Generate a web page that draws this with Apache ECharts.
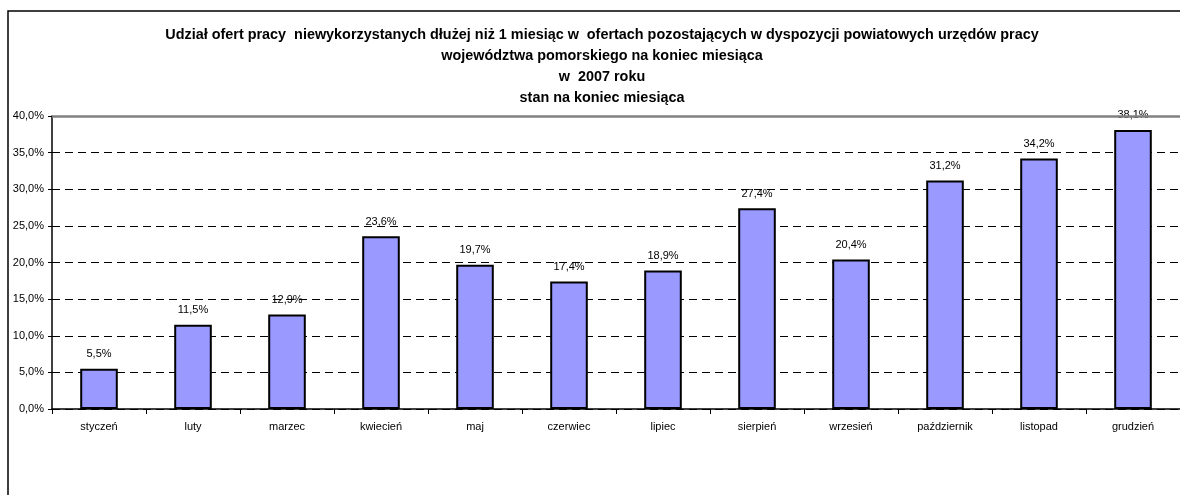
<!DOCTYPE html>
<html>
<head>
<meta charset="utf-8">
<script src="https://cdn.jsdelivr.net/npm/echarts@6/dist/echarts.min.js"></script>
<style>
  html, body { margin: 0; padding: 0; background: #fff; }
  #chart { width: 1180px; height: 495px; }
</style>
</head>
<body>
<div id="chart"></div>
<script>
  const months = ['styczeń', 'luty', 'marzec', 'kwiecień', 'maj', 'czerwiec', 'lipiec',
    'sierpień', 'wrzesień', 'październik', 'listopad', 'grudzień'];
  const shares = [5.5, 11.5, 12.9, 23.6, 19.7, 17.4, 18.9, 27.4, 20.4, 31.2, 34.2, 38.1];
  const titleLines = [
    'Udział ofert pracy  niewykorzystanych dłużej niż 1 miesiąc w  ofertach pozostających w dyspozycji powiatowych urzędów pracy',
    'województwa pomorskiego na koniec miesiąca',
    'w  2007 roku',
    'stan na koniec miesiąca'
  ];

  const pct = v => v.toFixed(1).replace('.', ',') + '%';
  const font = 'Liberation Sans, Arial, sans-serif';

  const chart = echarts.init(document.getElementById('chart'));

  chart.setOption({
    animation: false,
    textStyle: { fontFamily: font },
    title: {
      text: titleLines.join('\n'),
      left: 597,
      textAlign: 'center',
      top: 20,
      textStyle: {
        fontFamily: font,
        fontSize: 14.4,
        fontWeight: 'bold',
        color: '#000',
        lineHeight: 21
      }
    },
    graphic: [
      {
        type: 'rect',
        shape: { x: 8, y: 11, width: 1200, height: 520 },
        style: { fill: 'none', stroke: '#000', lineWidth: 1.5 },
        silent: true
      }
    ],
    grid: {
      left: 52,
      right: -8,
      top: 116,
      bottom: 86,
      containLabel: false
    },
    xAxis: {
      type: 'category',
      data: months,
      axisLine: { lineStyle: { color: '#000', width: 1.5 } },
      axisTick: { show: true, length: 5, lineStyle: { color: '#000' } },
      axisLabel: { color: '#000', fontSize: 11, margin: 12, interval: 0 }
    },
    yAxis: {
      type: 'value',
      min: 0,
      max: 40,
      interval: 5,
      axisLine: { show: true, lineStyle: { color: '#000', width: 1.5 } },
      axisTick: { show: true, length: 4, lineStyle: { color: '#000' } },
      axisLabel: {
        color: '#000',
        fontSize: 11,
        margin: 8,
        formatter: pct
      },
      splitLine: {
        show: true,
        lineStyle: { color: '#000', type: [8, 5], width: 1 }
      }
    },
    series: [
      {
        type: 'bar',
        data: shares,
        barWidth: '40%',
        itemStyle: {
          color: '#9999ff',
          borderColor: '#000',
          borderWidth: 2
        },
        label: {
          show: true,
          position: 'top',
          distance: 9,
          color: '#000',
          fontSize: 11,
          formatter: p => pct(p.value)
        },
        markLine: {
          silent: true,
          symbol: 'none',
          z: 5,
          label: { show: false },
          lineStyle: { color: '#808080', type: 'solid', width: 2.5, opacity: 1 },
          data: [{ yAxis: 40 }]
        }
      }
    ]
  });
</script>
</body>
</html>
